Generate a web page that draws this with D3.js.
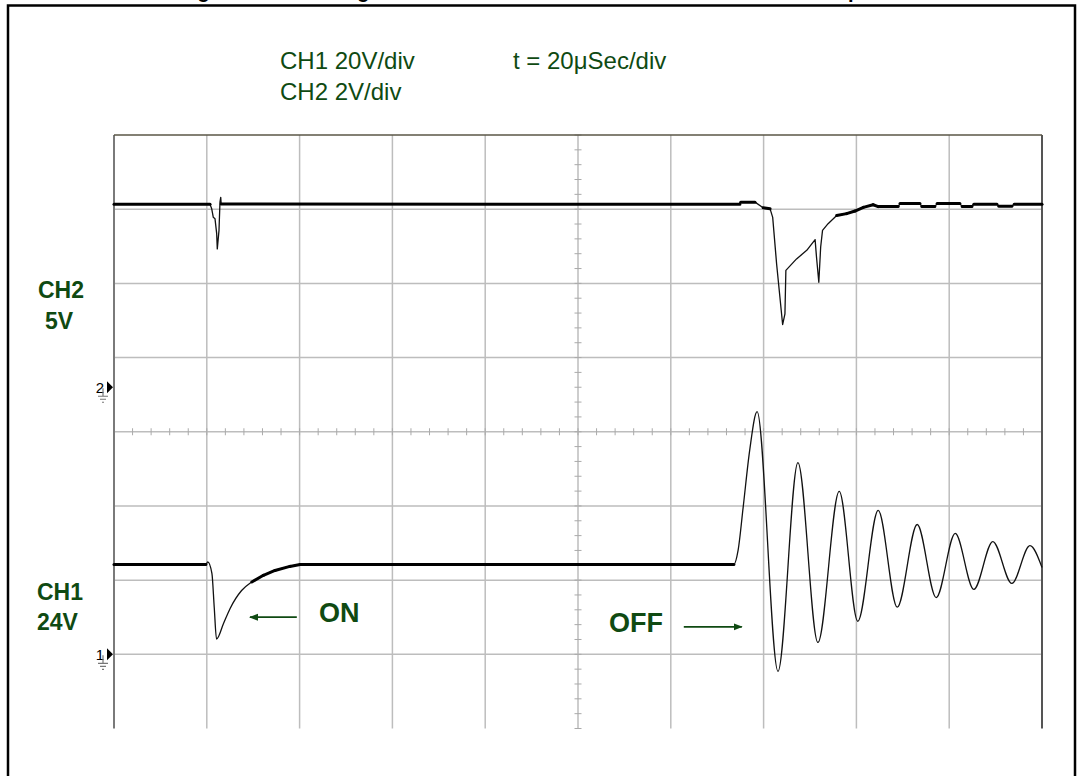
<!DOCTYPE html>
<html>
<head>
<meta charset="utf-8">
<script src="https://cdn.jsdelivr.net/npm/d3@7"></script>
<style>
  html, body { margin: 0; padding: 0; background: #fff; }
  svg { display: block; }
</style>
</head>
<body>
<div id="scope"></div>
<script>
// Time grid (µs), 20 µs/div
const timeGrid = [0, 20, 40, 60, 80, 100, 120, 140, 160, 180, 200];
// Vertical grid in divisions
const divGrid = [-4, -3, -2, -1, 0, 1, 2, 3, 4];

// CH1 (V, 20 V/div) : time µs / volts
const ch1Time = [0, 19.8, 20.2, 21.1, 21.6, 22.1, 23.6, 25.0, 27.5, 29.7, 32.2, 34.7, 37.9, 40.1,
  133.6, 134.5, 135.6, 137.0, 138.6, 143.1, 147.4, 151.7, 156.3, 160.3, 164.7, 168.8,
  173.1, 177.2, 181.3, 185.3, 189.4, 193.5, 197.4, 200];
const ch1Volt = [24.2, 24.2, 24.9, 21.8, 12.7, 4.1, 8.3, 12.3, 17.2, 19.5, 21.3, 22.6, 23.7, 24.2,
  24.2, 28.0, 39.7, 55.0, 65.4, -4.6, 51.7, 3.2, 43.9, 8.9, 38.8, 12.7,
  35.0, 15.3, 32.6, 17.5, 30.4, 19.1, 29.3, 23.4];

// CH2 (V, 2 V/div)
const ch2Time = [0, 20.7, 21.06, 21.4, 21.77, 22.13, 22.26, 22.63, 22.84, 23.0, 23.1,
  134.9, 135.06, 138.15, 139.9, 141.4, 141.96, 142.8, 144.1, 144.6, 144.8, 147.1, 149.3,
  151.1, 151.4, 151.9, 152.3, 152.7, 153.9, 155.75, 157.9, 159.7, 161.5, 163.6,
  164.7, 169.0, 169.4, 173.7, 174.1, 176.9, 177.4, 182.3, 182.8, 184.9, 185.3, 190.3,
  190.7, 193.5, 194.0, 200];
const ch2Volt = [4.93, 4.93, 4.81, 4.58, 4.54, 4.14, 3.73, 4.23, 4.99, 5.12, 4.94,
  4.93, 4.99, 4.99, 4.84, 4.81, 4.58, 3.33, 1.69, 1.98, 3.15, 3.46, 3.69,
  3.98, 3.51, 2.83, 3.78, 4.23, 4.41, 4.63, 4.68, 4.75, 4.85, 4.92,
  4.87, 4.87, 4.95, 4.95, 4.87, 4.87, 4.95, 4.95, 4.87, 4.87, 4.93, 4.93,
  4.88, 4.88, 4.93, 4.93];

// Texts
const settingLines = ['CH1 20V/div', 'CH2 2V/div'];
const timeSetting = 't = 20\u03bcSec/div';
const titleText = 'Figure 8. The Voltage Waveforms at Turn-On and at Turn-Off with Clamp';

const W = 1082, H = 776;
const plot = { left: 114, right: 1042, top: 135, bottom: 728.5 };
const green = '#0f4a12';
const font = 'Liberation Sans, Arial, Helvetica, sans-serif';

const svg = d3.select('#scope').append('svg').attr('width', W).attr('height', H);

// Échelles
const x = d3.scaleLinear().domain([0, 200]).range([plot.left, plot.right]);
const yDiv = d3.scaleLinear().domain([-4, 4]).range([plot.bottom, plot.top]);
const y1 = d3.scaleLinear().domain([-20, 140]).range([plot.bottom, plot.top]);   // masse à -3 div
const y2 = d3.scaleLinear().domain([-9.2, 6.8]).range([plot.bottom, plot.top]);  // masse à +0.6 div

// Cadre extérieur + titre coupé en haut
svg.append('rect').attr('x', 8).attr('y', 5.5).attr('width', 1067).attr('height', 800)
  .attr('fill', 'none').attr('stroke', '#000').attr('stroke-width', 2.5);
svg.append('text').attr('x', 520).attr('y', -2).attr('text-anchor', 'middle')
  .style('font', `bold 20px ${font}`).text(titleText);

// Grille
const g = svg.append('g');
g.selectAll('.vgrid').data(timeGrid.slice(1, -1)).join('line')
  .attr('x1', d => x(d)).attr('x2', d => x(d))
  .attr('y1', plot.top).attr('y2', plot.bottom)
  .attr('stroke', '#bdbdbd').attr('stroke-width', 1.5);
g.selectAll('.hgrid').data(divGrid.slice(1, -1)).join('line')
  .attr('x1', plot.left).attr('x2', plot.right)
  .attr('y1', d => yDiv(d)).attr('y2', d => yDiv(d))
  .attr('stroke', '#bdbdbd').attr('stroke-width', 1.5);

// Petites graduations sur les axes centraux (5 par division)
const minorX = d3.range(0, 200.01, 4);
const minorY = d3.range(-4, 4.01, 0.2);
g.selectAll('.mx').data(minorX).join('line')
  .attr('x1', d => x(d)).attr('x2', d => x(d))
  .attr('y1', yDiv(0) - 3.5).attr('y2', yDiv(0) + 3.5)
  .attr('stroke', '#aaa').attr('stroke-width', 1);
g.selectAll('.my').data(minorY).join('line')
  .attr('x1', x(100) - 3.5).attr('x2', x(100) + 3.5)
  .attr('y1', d => yDiv(d)).attr('y2', d => yDiv(d))
  .attr('stroke', '#aaa').attr('stroke-width', 1);

// Cadre du graticule (pas de bord bas)
g.append('line').attr('x1', plot.left).attr('x2', plot.left).attr('y1', plot.top).attr('y2', plot.bottom)
  .attr('stroke', '#7a7a7a').attr('stroke-width', 2);
g.append('line').attr('x1', plot.right).attr('x2', plot.right).attr('y1', plot.top).attr('y2', plot.bottom)
  .attr('stroke', '#555').attr('stroke-width', 2);
g.append('line').attr('x1', plot.left).attr('x2', plot.right).attr('y1', plot.top).attr('y2', plot.top)
  .attr('stroke', '#5a5646').attr('stroke-width', 1.5);

// Traces
function drawTrace(times, volts, yScale, curve) {
  const pts = times.map((t, i) => [x(t), yScale(volts[i])]);
  svg.append('path').datum(pts)
    .attr('fill', 'none').attr('stroke', '#111').attr('stroke-width', 1.3)
    .attr('stroke-linejoin', 'round')
    .attr('d', d3.line().curve(curve));
  // segments lents -> trait épais (persistance de l'écran)
  const slow = d3.pairs(pts).filter(([a, b]) => Math.abs(b[1] - a[1]) < 0.6 * Math.abs(b[0] - a[0]));
  svg.selectAll(null).data(slow).join('line')
    .attr('x1', d => d[0][0]).attr('y1', d => d[0][1])
    .attr('x2', d => d[1][0]).attr('y2', d => d[1][1])
    .attr('stroke', '#000').attr('stroke-width', 3).attr('stroke-linecap', 'round');
}
drawTrace(ch2Time, ch2Volt, y2, d3.curveLinear);
drawTrace(ch1Time, ch1Volt, y1, d3.curveMonotoneX);

// Marqueurs de masse
function groundMarker(label, yPos) {
  const m = svg.append('g').attr('transform', `translate(${plot.left},${yPos})`);
  m.append('text').attr('x', -10).attr('y', 5.5).attr('text-anchor', 'end')
    .style('font', `15px ${font}`).text(label);
  m.append('path').attr('d', 'M-7,-6 L-1,0 L-7,6 Z').attr('fill', '#000');
  m.append('path').attr('d', 'M-11,1 L-11,9 M-16,9 L-6,9 M-14,12 L-8,12 M-12,15 L-10,15')
    .attr('stroke', '#777').attr('stroke-width', 1.2).attr('fill', 'none');
}
groundMarker('2', y2(0));
groundMarker('1', y1(0));

// Réglages
svg.selectAll('.setting').data(settingLines).join('text')
  .attr('x', 280).attr('y', (d, i) => 69 + i * 31)
  .attr('fill', green).style('font', `24px ${font}`).text(d => d);
svg.append('text').attr('x', 513).attr('y', 69)
  .attr('fill', green).style('font', `24px ${font}`).text(timeSetting);

// Libellés des voies
const sideLabels = [
  { text: 'CH2', x: 38, y: 298 }, { text: '5V', x: 45, y: 329 },
  { text: 'CH1', x: 37, y: 600 }, { text: '24V', x: 37, y: 630 }
];
svg.selectAll('.side').data(sideLabels).join('text')
  .attr('x', d => d.x).attr('y', d => d.y)
  .attr('fill', green).style('font', `bold 23px ${font}`).text(d => d.text);

// Annotations ON / OFF (coordonnées en µs et en volts CH1)
const defs = svg.append('defs');
defs.append('marker').attr('id', 'head').attr('viewBox', '0 0 10 10')
  .attr('refX', 9).attr('refY', 5).attr('markerWidth', 5).attr('markerHeight', 5)
  .attr('orient', 'auto-start-reverse')
  .append('path').attr('d', 'M0,1 L10,5 L0,9 Z').attr('fill', green);

const notes = [
  { text: 'ON', t: 44.2, v: 8.6, from: 39.4, to: 29.3, av: 10.0 },
  { text: 'OFF', t: 106.7, v: 6.0, from: 122.8, to: 135.3, av: 7.4 }
];
notes.forEach(n => {
  svg.append('text').attr('x', x(n.t)).attr('y', y1(n.v))
    .attr('fill', green).style('font', `bold 27px ${font}`).text(n.text);
  svg.append('line').attr('x1', x(n.from)).attr('x2', x(n.to))
    .attr('y1', y1(n.av)).attr('y2', y1(n.av))
    .attr('stroke', green).attr('stroke-width', 1.8).attr('marker-end', 'url(#head)');
});
</script>
</body>
</html>
